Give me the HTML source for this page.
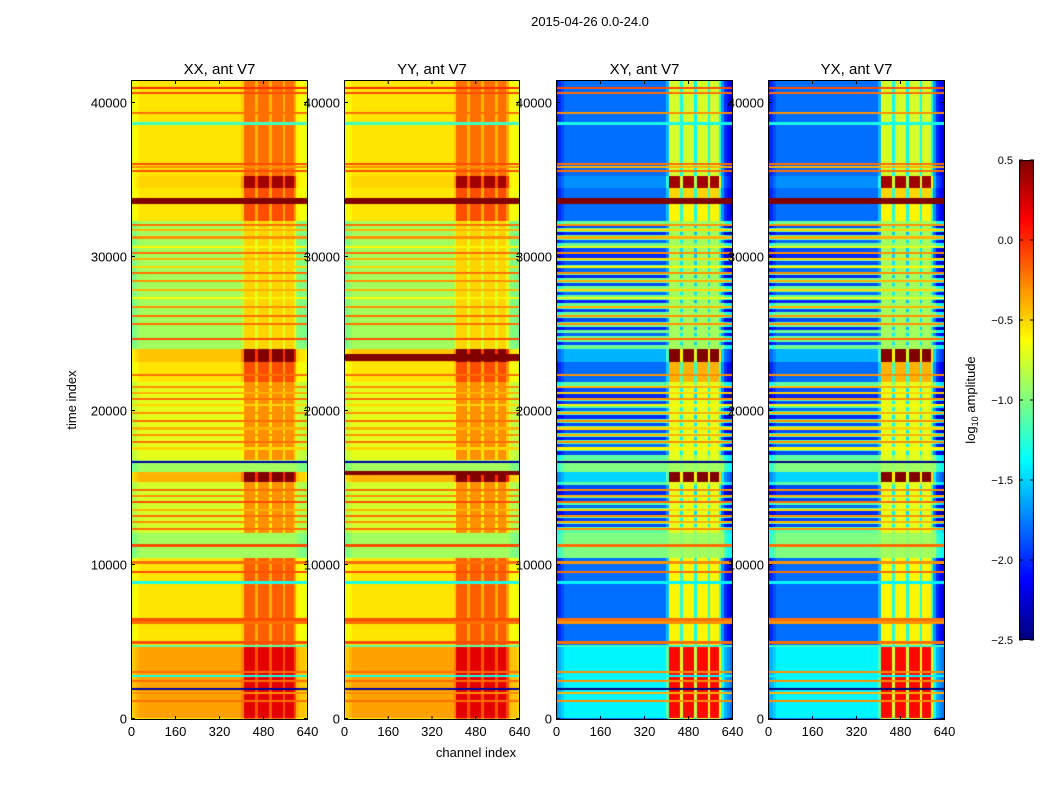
<!DOCTYPE html>
<html><head><meta charset="utf-8"><style>
body{margin:0;background:#fff;font-family:"Liberation Sans",sans-serif;}
#wrap{position:relative;width:1050px;height:800px;overflow:hidden;}
canvas{position:absolute;}
svg{position:absolute;left:0;top:0;}
</style></head><body>
<div id="wrap">
<canvas id="c0" width="177" height="640" style="left:131px;top:80px"></canvas>
<canvas id="c1" width="176" height="640" style="left:344px;top:80px"></canvas>
<canvas id="c2" width="177" height="640" style="left:556px;top:80px"></canvas>
<canvas id="c3" width="177" height="640" style="left:768px;top:80px"></canvas>
<canvas id="cb" width="15" height="480" style="left:1019px;top:160px"></canvas>
<svg id="ax" width="1050" height="800"></svg>
</div>
<script>
// ---- data ----
const panelTitles=["XX, ant V7","YY, ant V7","XY, ant V7","YX, ant V7"];
const xTicks=[0,160,320,480,640];
const yTicks=[0,10000,20000,30000,40000];
const cbTicks=[0.5,0.0,-0.5,-1.0,-1.5,-2.0,-2.5];
const timeMax=41430, chanMax=640, vmin=-2.5, vmax=0.5;
// segments: [tStart,tEnd, XXquiet, XXactive, XYquiet, XYactive]
const segStart=[35200,34400,33350,32280,23930,23140,21820,16780,16000,15320,12010,10420,4720,0];
const segEnd  =[41430,35200,34400,33350,32280,23930,23140,21820,16780,16000,15320,12010,10420,4720];
const xxQuiet =[-0.55,-0.5,-0.55,-0.55,-0.9,-0.45,-0.55,-0.7,-0.9,-0.4,-0.75,-0.9,-0.55,-0.35];
const xxActive=[-0.2,0.4,-0.1,-0.1,-0.5,0.5,-0.1,-0.3,-0.9,0.5,-0.3,-0.9,-0.15,0.2];
const xyQuiet =[-1.8,-1.7,-1.8,-1.8,-1.05,-1.6,-1.8,-1.1,-1.0,-1.5,-1.1,-1.0,-1.8,-1.4];
const xyActive=[-0.75,0.4,-0.5,-0.6,-0.9,0.5,-0.4,-0.7,-0.9,0.5,-0.7,-0.9,-0.6,0.1];
// full-width stripes: time, value
const stripeT=[40900,40600,39300,38600,36000,35800,35500,33600,33500,33700,32000,31700,31200,30600,30200,29800,29300,28900,28400,27800,27300,26700,26100,25600,24600,22300,21500,21100,20700,20300,19800,19300,18800,18400,17900,17500,16600,14800,14400,14000,13500,13100,12700,12300,11200,10100,9500,8800,6400,6200,4900,4700,3000,2700,2400,1900,1600,1100];
const stripeV=[0.0,-0.1,-0.2,-1.2,-0.1,-0.3,-0.1,0.5,0.5,0.5,-0.2,-0.4,-0.3,-0.6,-0.2,-0.4,-0.5,-0.2,-0.3,-0.4,-0.6,-0.3,-0.2,-0.2,-0.1,-0.2,-0.3,-0.4,-0.2,-0.5,-0.3,-0.2,-0.4,-0.3,-0.2,-0.5,-2.4,-0.2,-0.3,-0.1,-0.4,-0.2,-0.3,-0.2,-0.1,-0.2,-0.1,-1.3,-0.1,-0.2,-0.1,-1.1,-0.2,-1.3,-0.2,-2.4,-0.3,-0.2];
// XY/YX blue stripes in the mixed regions
const xyStripeT=[31900,31450,30950,30400,30000,29550,29100,28650,28150,27550,27050,26450,25850,25300,24900,24300,21300,20900,20500,20050,19550,19050,18600,18150,17700,17200,15000,14600,14200,13750,13300,12900,12500];
const xyStripeV=[-1.9,-2.0,-1.8,-1.9,-2.0,-1.9,-1.8,-2.0,-1.9,-1.8,-2.0,-1.9,-1.9,-2.0,-1.8,-1.9,-1.9,-2.0,-1.9,-1.8,-2.0,-1.9,-1.9,-2.0,-1.8,-1.9,-1.9,-2.0,-1.9,-1.8,-2.0,-1.9,-1.9];
// YY extra full-width bands
const yyBandT=[23300,23500,15900];
const yyBandV=[0.5,0.5,0.5];
// channel weight (64 bins of 10 channels) for active region
const chanW=[0,0,0,0,0,0,0,0,0,0,0,0,0,0,0,0,0,0,0,0,0,0,0,0,0,0,0,0,0,0,0,0,0,0,0,0,0,0,0,0,0.2,1,1,1,1,0.45,1,1,1,1,0.4,1,1,1,1,0.45,1,1,1,0.5,0,0,0,0];
// edge offsets per channel bin (quiet level modifier)
const xxEdge=[-0.15,-0.1,-0.05,0,0,0,0,0,0,0,0,0,0,0,0,0,0,0,0,0,0,0,0,0,0,0,0,0,0,0,0,0,0,0,0,0,0,0,0,0,0,0,0,0,0,0,0,0,0,0,0,0,0,0,0,0,0,0,0,0,-0.05,-0.1,-0.1,-0.15];
const xyEdge=[-0.3,-0.2,-0.1,0,0,0,0,0,0,0,0,0,0,0,0,0,0,0,0,0,0,0,0,0,0,0,0,0,0,0,0,0,0,0,0,0,0,0,0,0,0,0,0,0,0,0,0,0,0,0,0,0,0,0,0,0,0,0,0,0,0.1,-0.2,-0.3,-0.4];

// ---- helpers ----
function jet(v){
  let t=(v-vmin)/(vmax-vmin);t=Math.max(0,Math.min(1,t));
  const c=x=>Math.round(255*Math.max(0,Math.min(1,x)));
  return `rgb(${c(1.5-Math.abs(4*t-3))},${c(1.5-Math.abs(4*t-2))},${c(1.5-Math.abs(4*t-1))})`;
}
const H=640;
function yOf(t){return 638-t*0.0154;}
function tOf(py){return (638-py)/0.0154;}
function val(kind,t,bin){
  let s=segStart.findIndex((st,i)=>t>=st&&t<segEnd[i]);
  if(s<0)s=0;
  const isXX=kind==0||kind==1;
  let q=(isXX?xxQuiet[s]:xyQuiet[s])+(isXX?xxEdge[bin]:xyEdge[bin]);
  if(!isXX){for(let k=0;k<xyStripeT.length;k++)if(Math.abs(t-xyStripeT[k])<110)q=xyStripeV[k]+xyEdge[bin];}
  const a=isXX?xxActive[s]:xyActive[s];
  let v=q+chanW[bin]*(a-q);
  for(let k=0;k<stripeT.length;k++){
    if(Math.abs(t-stripeT[k])<70){v=stripeV[k]>0.4?stripeV[k]:(isXX?stripeV[k]:stripeV[k]-0.1);}
  }
  if(t>=33350&&t<33770)v=0.5;
  if(kind==1){for(let k=0;k<yyBandT.length;k++)if(Math.abs(t-yyBandT[k])<120)v=yyBandV[k];}
  return v;
}
function drawPanel(id,kind){
  const cv=document.getElementById(id),ctx=cv.getContext('2d');
  const W=cv.width,bw=W/64;
  for(let py=0;py<H;py++){
    const t=tOf(py+0.5);
    for(let b=0;b<64;b++){
      ctx.fillStyle=jet(val(kind,t,b));
      ctx.fillRect(Math.floor(b*bw),py,Math.ceil(bw)+1,1);
    }
  }
}
['c0','c1','c2','c3'].forEach((id,i)=>drawPanel(id,i));
(function(){const cv=document.getElementById('cb'),ctx=cv.getContext('2d');
for(let y=0;y<480;y++){ctx.fillStyle=jet(vmax-(y+0.5)/480*(vmax-vmin));ctx.fillRect(0,y,15,1);}
ctx.strokeStyle='#000';ctx.strokeRect(0.5,0.5,14,479);})();

// ---- axes ----
const NS='http://www.w3.org/2000/svg',svg=document.getElementById('ax');
function el(tag,attrs,text){const e=document.createElementNS(NS,tag);for(const k in attrs)e.setAttribute(k,attrs[k]);if(text!==undefined)e.textContent=text;svg.appendChild(e);return e;}
const lefts=[131,344,556,768],widths=[177,176,177,177];
lefts.forEach((L,i)=>{
  const W=widths[i],T=80;
  const r=el('rect',{x:L+0.5,y:T+0.5,width:W-1,height:H-1,fill:'none',stroke:'#000','stroke-width':1});
  
  
  const tt=el('text',{x:L+W/2,y:74,'text-anchor':'middle','font-size':15,'font-family':'Liberation Sans, sans-serif'},panelTitles[i]);
  
  
  xTicks.forEach(v=>{
    const x=L+v/chanMax*(W-1)+0.5;
    el('line',{x1:x,x2:x,y1:T+H,y2:T+H-4,stroke:'#000'});
    el('line',{x1:x,x2:x,y1:T,y2:T+4,stroke:'#000'});
    const lb=el('text',{x:x,y:T+H+16,'text-anchor':'middle','font-size':13,'font-family':'Liberation Sans, sans-serif'},String(v));
    
    
  });
  yTicks.forEach(v=>{
    const y=T+yOf(v)+0.5;
    el('line',{x1:L,x2:L+4,y1:y,y2:y,stroke:'#000'});
    el('line',{x1:L+W,x2:L+W-4,y1:y,y2:y,stroke:'#000'});
    const lb=el('text',{x:L-4,y:y+5,'text-anchor':'end','font-size':13,'font-family':'Liberation Sans, sans-serif'},String(v));
    
    
  });
});
cbTicks.forEach(v=>{
  const y=160+(vmax-v)/(vmax-vmin)*480;
  el('line',{x1:1019,x2:1023,y1:y,y2:y,stroke:'#000'});
  el('line',{x1:1030,x2:1034,y1:y,y2:y,stroke:'#000'});
  const lb=el('text',{x:1013,y:y+4,'text-anchor':'end','font-size':11,'font-family':'Liberation Sans, sans-serif'},(v<0?'\u2212':'')+Math.abs(v).toFixed(1));
  
  
});
let e=el('text',{x:590,y:26,'text-anchor':'middle','font-size':13,'font-family':'Liberation Sans, sans-serif'},'2015-04-26 0.0-24.0');

e=el('text',{x:476,y:757,'text-anchor':'middle','font-size':13,'font-family':'Liberation Sans, sans-serif'},'channel index');

e=el('text',{x:76,y:400,'text-anchor':'middle','font-size':13,'font-family':'Liberation Sans, sans-serif',transform:'rotate(-90 76 400)'},'time index');

e=el('text',{x:975,y:400,'text-anchor':'middle','font-size':13,'font-family':'Liberation Sans, sans-serif',transform:'rotate(-90 975 400)'});

e.innerHTML='log<tspan font-size="9" dy="3">10</tspan><tspan dy="-3"> amplitude</tspan>';
</script>
</body></html>
